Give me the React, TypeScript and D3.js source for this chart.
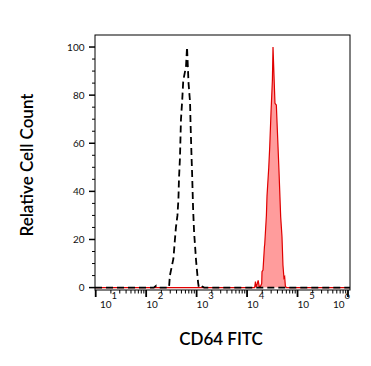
import React from 'react'
import * as d3 from 'd3'

// channel values are log10 of CD64 FITC intensity
const isotypeLog = [0.986, 2.15, 2.2, 2.25, 2.453, 2.47, 2.54, 2.57, 2.59, 2.62, 2.64, 2.65, 2.67, 2.69, 2.715, 2.735, 2.79, 2.81, 2.84, 2.87, 2.88, 2.9, 2.91, 2.93, 2.95, 2.99, 3.03, 3.045, 3.1, 3.15, 6.04]
const isotypeCount = [0, 0, 0.8, 0, 0, 5, 12, 20, 25, 30, 37, 45, 54, 70, 78, 86, 92, 100, 85, 77, 68, 54, 48, 33, 23, 11, 2, 0, 0.6, 0, 0]

const stainedLog = [0.986, 4.15, 4.166, 4.18, 4.2, 4.22, 4.24, 4.265, 4.29, 4.296, 4.316, 4.344, 4.35, 4.383, 4.395, 4.43, 4.449, 4.474, 4.502, 4.514, 4.553, 4.58, 4.6, 4.632, 4.666, 4.692, 4.711, 4.731, 4.745, 4.759, 4.779, 6.04]
const stainedCount = [0, 0, 2.5, 0.3, 1.5, 3, 0.5, 0.5, 1.7, 6.6, 7.3, 17, 18, 30, 38, 50, 58.5, 72.6, 86.3, 100, 76.6, 75.9, 65.5, 48.9, 29.4, 21.1, 9.4, 4, 4.5, 0.6, 0, 0]

const xDecades = [1, 2, 3, 4, 5, 6]
const yTicks = [0, 20, 40, 60, 80, 100]

const W = 371
const H = 366
const left = 95
const right = 350
const top = 35
const bottom = 290
const font = 'Lato, "Open Sans", sans-serif'

const App = () => {
  const x = d3.scaleLinear().domain([0.986, 6.04]).range([left, right])
  const y = d3.scaleLinear().domain([-1, 105]).range([bottom, top])

  const isotype = isotypeLog.map((v, i) => ({ v, c: isotypeCount[i] }))
  const stained = stainedLog.map((v, i) => ({ v, c: stainedCount[i] }))

  const line = d3.line<{ v: number; c: number }>().x(d => x(d.v)).y(d => y(d.c))
  const area = d3
    .area<{ v: number; c: number }>()
    .x(d => x(d.v))
    .y0(y(0))
    .y1(d => y(d.c))

  // minor ticks at 2..9 x 10^d inside the domain
  const minorX: number[] = []
  for (let d = 0; d <= 6; d++) {
    for (let k = 2; k <= 9; k++) {
      const lv = d + Math.log10(k)
      if (lv >= 0.986 && lv <= 6.04) minorX.push(lv)
    }
  }
  const minorY = d3.range(0, 101, 5).filter(v => v % 20 !== 0)

  return (
    <svg width={W} height={H} style={{ position: 'absolute', left: 0, top: 0, background: '#fff' }}>
      <path d={area(stained) || ''} fill="#ff9c9c" stroke="none" />
      <path d={line(stained) || ''} fill="none" stroke="#e00000" strokeWidth={1.2} />
      <path d={line(isotype) || ''} fill="none" stroke="#000" strokeWidth={1.8} strokeDasharray="7 4" />

      <rect x={left} y={top} width={right - left} height={bottom - top} fill="none" stroke="#000" strokeWidth={1} />

      {/* y axis */}
      {yTicks.map(t => (
        <g key={t}>
          <line x1={left - 6} x2={left} y1={y(t)} y2={y(t)} stroke="#000" strokeWidth={1.5} />
          <text x={left - 10.5} y={y(t)} dy="0.35em" textAnchor="end" fontFamily={font} fontSize={10} fill="#111">
            {t}
          </text>
        </g>
      ))}
      {minorY.map(t => (
        <line key={t} x1={left - 3} x2={left} y1={y(t)} y2={y(t)} stroke="#000" strokeWidth={1} />
      ))}

      {/* x axis */}
      {minorX.map(t => (
        <line key={t} x1={x(t)} x2={x(t)} y1={bottom} y2={bottom + 3.5} stroke="#000" strokeWidth={1} />
      ))}
      {xDecades.map(d => {
        const tx = x(d)
        const lx = Math.min(Math.max(tx, 100), 349 - 16)
        return (
          <g key={d}>
            <line x1={tx} x2={tx} y1={bottom} y2={bottom + 7} stroke="#000" strokeWidth={1.8} />
            <text x={lx} y={307.5} fontFamily={font} fontSize={10} fill="#111">
              10
              <tspan dy={-8.5} fontSize={9.5}>
                {d}
              </tspan>
            </text>
          </g>
        )
      })}

      <text
        transform={`translate(33,165) rotate(-90)`}
        textAnchor="middle"
        fontFamily={font}
        fontSize={17}
        fontWeight={600}
        fill="#000"
      >
        Relative Cell Count
      </text>
      <text x={221} y={345} textAnchor="middle" fontFamily={font} fontSize={17} fontWeight={600} fill="#000">
        CD64 FITC
      </text>
    </svg>
  )
}

export default App
